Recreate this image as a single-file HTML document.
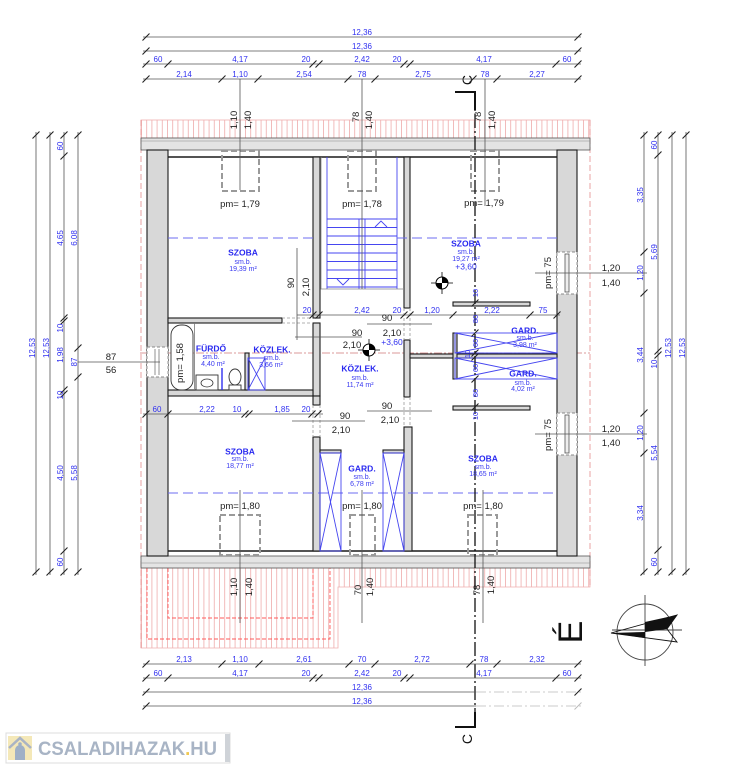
<!DOCTYPE html>
<html><head><meta charset="utf-8">
<style>
html,body{margin:0;padding:0;background:#fff;width:744px;height:768px;overflow:hidden}
svg{display:block}
text{font-family:"Liberation Sans",sans-serif}
.b{fill:#3030f0;font-size:8px}
.bs{fill:#3030f0;font-size:7.5px}
.k{fill:#222;font-size:9.5px}
.r{fill:#2a2af0;font-size:8.5px;font-weight:bold}
.s{fill:#3a3af0;font-size:7px}
.dl{stroke:#555;stroke-width:0.8;fill:none}
.tk{stroke:#222;stroke-width:1.1;fill:none}
.w{fill:#d8d8d8;stroke:#1a1a1a;stroke-width:1.1}
.bl{stroke:#4646f0;stroke-width:0.9;fill:none}
.win{fill:none;stroke:#9a9a9a;stroke-width:2;stroke-dasharray:6 3}
</style></head>
<body>
<svg width="744" height="768" viewBox="0 0 744 768">
<defs>
<pattern id="h" x="141" y="0" width="5.2" height="10" patternUnits="userSpaceOnUse"><line x1="0.5" y1="0" x2="0.5" y2="10" stroke="#f0b4b4" stroke-width="0.9"/></pattern>
</defs>

<!-- roof hatch top -->
<rect x="141" y="120" width="449" height="18" fill="url(#h)" stroke="#f0b0b0" stroke-width="0.8"/>
<!-- roof hatch bottom -->
<path d="M141 568H590V587H338V648H141Z" fill="url(#h)" stroke="#f0b0b0" stroke-width="0.8"/>
<path d="M147 568V639H330V568 M168 568V618H313V568" fill="none" stroke="#ff5a5a" stroke-width="0.9" stroke-dasharray="4 2"/>
<!-- pink dashed outline -->
<path d="M141 120V648 M590 120V587" stroke="#e89a9a" stroke-width="0.9" stroke-dasharray="6 3" fill="none"/>

<!-- eave bands -->
<rect x="141" y="138" width="449" height="12" fill="#e4e4e4" stroke="#555" stroke-width="0.8"/>
<line x1="141" y1="141" x2="590" y2="141" stroke="#888" stroke-width="0.6"/>
<rect x="141" y="556" width="449" height="12" fill="#e4e4e4" stroke="#555" stroke-width="0.8"/>
<line x1="141" y1="563" x2="590" y2="563" stroke="#888" stroke-width="0.6"/>

<!-- horizontal axis red dash-dot -->
<line x1="140" y1="353" x2="590" y2="353" stroke="#d07a7a" stroke-width="0.8" stroke-dasharray="8 2 2 2"/>

<!-- outer walls -->
<rect class="w" x="147" y="150" width="21" height="406"/>
<rect class="w" x="557" y="150" width="20" height="406"/>
<!-- windows in walls -->
<rect x="147" y="347" width="21" height="30" fill="#fff" stroke="#888" stroke-width="0.9" stroke-dasharray="3 2"/>
<path d="M155 349V375M159 349V375" stroke="#777" stroke-width="0.8"/>
<rect x="557" y="252" width="20" height="42" fill="#fff" stroke="#888" stroke-width="0.9" stroke-dasharray="3 2"/>
<rect x="565" y="254" width="4" height="38" fill="#eee" stroke="#555" stroke-width="0.8"/>
<rect x="557" y="413" width="20" height="42" fill="#fff" stroke="#888" stroke-width="0.9" stroke-dasharray="3 2"/>
<rect x="565" y="415" width="4" height="38" fill="#eee" stroke="#555" stroke-width="0.8"/>

<!-- room top/bottom lines -->
<path d="M168 157H557M168 551H557" stroke="#1a1a1a" stroke-width="1.4"/>

<!-- interior walls -->
<rect class="w" x="313" y="157" width="7" height="161"/>
<rect class="w" x="404" y="157" width="6" height="151"/>
<rect class="w" x="168" y="318" width="114" height="5"/>
<rect class="w" x="313" y="323" width="7" height="73"/>
<rect class="w" x="168" y="390" width="145" height="6"/>
<rect class="w" x="313" y="396" width="7" height="9"/>
<rect class="w" x="313" y="437" width="7" height="114"/>
<rect class="w" x="404" y="340" width="6" height="57"/>
<rect class="w" x="404" y="427" width="8" height="124"/>
<rect class="w" x="410" y="354" width="147" height="4"/>
<rect class="w" x="453" y="333" width="4" height="46"/>
<rect class="w" x="453" y="302" width="77" height="4"/>
<rect class="w" x="453" y="406" width="77" height="4"/>
<rect class="w" x="320" y="450" width="21" height="3"/>
<rect class="w" x="383" y="450" width="21" height="3"/>
<rect class="w" x="245" y="353" width="4" height="37"/>

<!-- door dashed -->
<path d="M282 318H313M282 323H313M313 405V437M320 405V437M404 397V427M410 397V427M404 308V340M410 308V340" stroke="#999" stroke-width="0.8" stroke-dasharray="3 2" fill="none"/>

<!-- stair -->
<path class="bl" d="M327 157V289M397 157V289M327 219H397M327 227.5H397M327 236H397M327 244.5H397M327 253H397M327 261.5H397M327 270H397M327 278.5H397M327 287H397M359 219V289M365 219V289"/>
<path class="bl" d="M337 279L343 285L349 279M375 227L381 221L387 227"/>
<path d="M321 157V289H404" stroke="#888" stroke-width="0.8" fill="none"/>

<!-- blue dashed roof lines -->
<path d="M168 238H313M397 238H557M168 493H557" stroke="#6c6cf0" stroke-width="0.9" stroke-dasharray="10 5" fill="none"/>

<!-- closets -->
<g class="bl">
<rect x="455" y="333" width="102" height="20"/><path d="M455 333L557 353M455 353L557 333"/>
<rect x="455" y="358" width="102" height="21"/><path d="M455 358L557 379M455 379L557 358"/>
<rect x="320" y="453" width="21" height="98"/><path d="M320 453L341 551M341 453L320 551"/>
<rect x="383" y="453" width="21" height="98"/><path d="M383 453L404 551M404 453L383 551"/>
<rect x="248" y="358" width="17" height="32"/><path d="M248 358L265 390M265 358L248 390"/>
</g>

<!-- bathroom fixtures -->
<rect x="171" y="325" width="22" height="65" rx="10" fill="#fff" stroke="#333" stroke-width="0.9"/>
<line x1="194.5" y1="323" x2="194.5" y2="390" stroke="#777" stroke-width="0.8"/>
<rect x="196" y="375" width="22" height="15" fill="#fff" stroke="#333" stroke-width="0.9"/>
<ellipse cx="207" cy="383" rx="6" ry="4" fill="none" stroke="#333" stroke-width="0.8"/>
<line x1="222" y1="368" x2="222" y2="390" stroke="#3030f0" stroke-width="1.4"/>
<ellipse cx="235" cy="377" rx="6" ry="8" fill="#fff" stroke="#333" stroke-width="0.9"/>
<rect x="229" y="385" width="12" height="5" fill="#fff" stroke="#333" stroke-width="0.9"/>

<!-- roof windows -->
<rect class="win" x="222" y="151" width="37" height="40"/>
<rect class="win" x="348" y="151" width="28" height="40"/>
<rect class="win" x="471" y="151" width="28" height="40"/>
<rect class="win" x="220" y="515" width="40" height="40"/>
<rect class="win" x="350" y="515" width="25" height="40"/>
<rect class="win" x="468" y="515" width="29" height="40"/>

<!-- window reference lines -->
<path class="dl" d="M240 79V190M362 79V289M485 79V206M240 490V623M362 490V623M483 490V623M535 273H647M535 434H647M78 362H160M297 248V340M367 324H432M295 337H362M367 411H432M292 421H365"/>

<!-- section line -->
<line x1="475" y1="92" x2="475" y2="727" stroke="#111" stroke-width="1.3" stroke-dasharray="14 3 2 3"/>
<path d="M455 92H475V110M455 727H475V712" stroke="#111" stroke-width="2" fill="none"/>
<text transform="translate(472,80) rotate(-90)" text-anchor="middle" style="font-size:14px;fill:#111">C</text>
<text transform="translate(472,739) rotate(-90)" text-anchor="middle" style="font-size:14px;fill:#111">C</text>

<!-- level symbols -->
<g transform="translate(442,283)"><path d="M-11 0H11M0-11V11" stroke="#000" stroke-width="0.8"/><circle r="6" fill="#fff" stroke="#000" stroke-width="1"/><path d="M0 0V-6A6 6 0 0 1 6 0ZM0 0V6A6 6 0 0 1 -6 0Z" fill="#000"/></g>
<g transform="translate(369,350)"><path d="M-11 0H11M0-11V11" stroke="#000" stroke-width="0.8"/><circle r="6" fill="#fff" stroke="#000" stroke-width="1"/><path d="M0 0V-6A6 6 0 0 1 6 0ZM0 0V6A6 6 0 0 1 -6 0Z" fill="#000"/></g>

<!-- TOP DIMENSIONS -->
<path class="dl" d="M143 37H581M143 51H581M143 64H581M143 79H581"/>
<path class="tk" d="M142.5 40.5l7-7M574.5 40.5l7-7M142.5 54.5l7-7M574.5 54.5l7-7M142.5 67.5l7-7M164.5 67.5l7-7M309.5 67.5l7-7M315.5 67.5l7-7M400.5 67.5l7-7M406.5 67.5l7-7M552.5 67.5l7-7M574.5 67.5l7-7M142.5 82.5l7-7M218.5 82.5l7-7M254.5 82.5l7-7M344.5 82.5l7-7M371.5 82.5l7-7M469.5 82.5l7-7M493.5 82.5l7-7M574.5 82.5l7-7"/>
<g class="b" text-anchor="middle">
<text x="362" y="35">12,36</text>
<text x="362" y="49">12,36</text>
<text x="158" y="62">60</text><text x="240" y="62">4,17</text><text x="306" y="62">20</text><text x="362" y="62">2,42</text><text x="397" y="62">20</text><text x="484" y="62">4,17</text><text x="567" y="62">60</text>
<text x="184" y="77">2,14</text><text x="240" y="77">1,10</text><text x="304" y="77">2,54</text><text x="362" y="77">78</text><text x="423" y="77">2,75</text><text x="485" y="77">78</text><text x="537" y="77">2,27</text>
</g>

<!-- BOTTOM DIMENSIONS -->
<path class="dl" d="M143 664H581M143 678H581M143 692H476M143 706H476"/>
<path d="M476 692H581M476 706H581" stroke="#bbb" stroke-width="0.8" stroke-dasharray="10 3 2 3"/>
<path class="tk" d="M142.5 667.5l7-7M218.5 667.5l7-7M255.5 667.5l7-7M345.5 667.5l7-7M371.5 667.5l7-7M466.5 667.5l7-7M493.5 667.5l7-7M574.5 667.5l7-7M142.5 681.5l7-7M164.5 681.5l7-7M309.5 681.5l7-7M315.5 681.5l7-7M400.5 681.5l7-7M406.5 681.5l7-7M552.5 681.5l7-7M574.5 681.5l7-7M142.5 695.5l7-7M574.5 695.5l7-7M142.5 709.5l7-7"/>
<path d="M574.5 709.5l7-7" stroke="#bbb" stroke-width="1"/>
<g class="b" text-anchor="middle">
<text x="184" y="662">2,13</text><text x="240" y="662">1,10</text><text x="304" y="662">2,61</text><text x="362" y="662">70</text><text x="422" y="662">2,72</text><text x="484" y="662">78</text><text x="537" y="662">2,32</text>
<text x="158" y="676">60</text><text x="240" y="676">4,17</text><text x="306" y="676">20</text><text x="362" y="676">2,42</text><text x="397" y="676">20</text><text x="484" y="676">4,17</text><text x="567" y="676">60</text>
<text x="362" y="690">12,36</text>
<text x="362" y="704">12,36</text>
</g>

<!-- LEFT DIMENSIONS -->
<path class="dl" d="M36 132V575M50 132V575M64 132V575M78 132V575"/>
<path class="tk" d="M32.5 138.5l7-7M32.5 575.5l7-7M46.5 138.5l7-7M46.5 575.5l7-7M60.5 138.5l7-7M60.5 159.5l7-7M60.5 321.5l7-7M60.5 324.5l7-7M60.5 393.5l7-7M60.5 397.5l7-7M60.5 554.5l7-7M60.5 575.5l7-7M74.5 138.5l7-7M74.5 351.5l7-7M74.5 380.5l7-7M74.5 575.5l7-7"/>
<g class="b" text-anchor="middle">
<text transform="translate(35,348) rotate(-90)">12,53</text>
<text transform="translate(49,348) rotate(-90)">12,53</text>
<text transform="translate(63,146) rotate(-90)">60</text>
<text transform="translate(63,238) rotate(-90)">4,65</text>
<text transform="translate(63,328) rotate(-90)">10</text>
<text transform="translate(63,355) rotate(-90)">1,98</text>
<text transform="translate(63,395) rotate(-90)">10</text>
<text transform="translate(63,473) rotate(-90)">4,50</text>
<text transform="translate(63,562) rotate(-90)">60</text>
<text transform="translate(77,238) rotate(-90)">6,08</text>
<text transform="translate(77,362) rotate(-90)">87</text>
<text transform="translate(77,473) rotate(-90)">5,58</text>
</g>

<!-- RIGHT DIMENSIONS -->
<path class="dl" d="M644 132V575M658 132V575M672 132V575M686 132V575"/>
<path class="tk" d="M640.5 138.5l7-7M640.5 255.5l7-7M640.5 296.5l7-7M640.5 416.5l7-7M640.5 456.5l7-7M640.5 575.5l7-7M654.5 138.5l7-7M654.5 158.5l7-7M654.5 354.5l7-7M654.5 358.5l7-7M654.5 553.5l7-7M654.5 575.5l7-7M668.5 138.5l7-7M668.5 575.5l7-7M682.5 138.5l7-7M682.5 575.5l7-7"/>
<g class="b" text-anchor="middle">
<text transform="translate(643,195) rotate(-90)">3,35</text>
<text transform="translate(643,273) rotate(-90)">1,20</text>
<text transform="translate(643,355) rotate(-90)">3,44</text>
<text transform="translate(643,433) rotate(-90)">1,20</text>
<text transform="translate(643,513) rotate(-90)">3,34</text>
<text transform="translate(657,145) rotate(-90)">60</text>
<text transform="translate(657,252) rotate(-90)">5,69</text>
<text transform="translate(657,364) rotate(-90)">10</text>
<text transform="translate(657,453) rotate(-90)">5,54</text>
<text transform="translate(657,562) rotate(-90)">60</text>
<text transform="translate(671,348) rotate(-90)">12,53</text>
<text transform="translate(685,348) rotate(-90)">12,53</text>
</g>

<!-- INTERIOR DIMENSIONS -->
<path class="dl" d="M297 315H560M143 414H323"/>
<path class="tk" d="M309.5 318.5l7-7M315.5 318.5l7-7M400.5 318.5l7-7M406.5 318.5l7-7M449.5 318.5l7-7M526.5 318.5l7-7M553.5 318.5l7-7M142.5 417.5l7-7M164.5 417.5l7-7M241.5 417.5l7-7M245.5 417.5l7-7M308.5 417.5l7-7M314.5 417.5l7-7M471.5 306.5l7-7M471.5 336.5l7-7M471.5 356.5l7-7M471.5 360.5l7-7M471.5 382.5l7-7M471.5 410.5l7-7"/>
<g class="b" text-anchor="middle">
<text x="307" y="313">20</text><text x="362" y="313">2,42</text><text x="397" y="313">20</text><text x="432" y="313">1,20</text><text x="492" y="313">2,22</text><text x="543" y="313">75</text>
<text x="157" y="412">60</text><text x="207" y="412">2,22</text><text x="237" y="412">10</text><text x="282" y="412">1,85</text><text x="306" y="412">20</text>
</g>
<g class="bs" text-anchor="middle">
<text transform="translate(478,293) rotate(-90)">10</text>
<text transform="translate(478,319) rotate(-90)">80</text>
<text transform="translate(478,343) rotate(-90)">60</text>
<text transform="translate(470,354) rotate(-90)">10</text>
<text transform="translate(478,368) rotate(-90)">60</text>
<text transform="translate(478,393) rotate(-90)">80</text>
<text transform="translate(478,416) rotate(-90)">10</text>
</g>

<!-- black labels -->
<g class="k" text-anchor="middle">
<text transform="translate(237,120) rotate(-90)">1,10</text>
<text transform="translate(251,120) rotate(-90)">1,40</text>
<text transform="translate(359,117) rotate(-90)">78</text>
<text transform="translate(372,120) rotate(-90)">1,40</text>
<text transform="translate(481,117) rotate(-90)">78</text>
<text transform="translate(495,120) rotate(-90)">1,40</text>
<text transform="translate(237,587) rotate(-90)">1,10</text>
<text transform="translate(252,587) rotate(-90)">1,40</text>
<text transform="translate(361,590) rotate(-90)">70</text>
<text transform="translate(373,587) rotate(-90)">1,40</text>
<text transform="translate(480,590) rotate(-90)">78</text>
<text transform="translate(494,585) rotate(-90)">1,40</text>
<text x="240" y="207">pm= 1,79</text>
<text x="362" y="207">pm= 1,78</text>
<text x="484" y="206">pm= 1,79</text>
<text x="240" y="509">pm= 1,80</text>
<text x="362" y="509">pm= 1,80</text>
<text x="483" y="509">pm= 1,80</text>
<text transform="translate(294,283) rotate(-90)">90</text>
<text transform="translate(309,287) rotate(-90)">2,10</text>
<text transform="translate(551,273) rotate(-90)">pm= 75</text>
<text transform="translate(551,435) rotate(-90)">pm= 75</text>
<text transform="translate(183,363) rotate(-90)">pm= 1,58</text>
<text x="611" y="271">1,20</text>
<text x="611" y="286">1,40</text>
<text x="611" y="432">1,20</text>
<text x="611" y="446">1,40</text>
<text x="111" y="360">87</text>
<text x="111" y="373">56</text>
<text x="387" y="321">90</text>
<text x="392" y="336">2,10</text>
<text x="357" y="336">90</text>
<text x="352" y="348">2,10</text>
<text x="387" y="409">90</text>
<text x="390" y="423">2,10</text>
<text x="345" y="419">90</text>
<text x="341" y="433">2,10</text>
</g>
<text x="392" y="345" class="b" text-anchor="middle" style="font-size:8.5px">+3,60</text>

<!-- room labels -->
<g text-anchor="middle">
<text x="243" y="255.5" class="r">SZOBA</text><text x="243" y="264" class="s">sm.b.</text><text x="243" y="271" class="s">19,39 m²</text>
<text x="466" y="246.5" class="r">SZOBA</text><text x="466" y="254" class="s">sm.b.</text><text x="466" y="261" class="s">19,27 m²</text><text x="466" y="269.5" class="b" style="font-size:8.5px">+3,60</text>
<text x="211" y="351.5" class="r">FÜRDŐ</text><text x="211" y="359" class="s">sm.b.</text><text x="213" y="366" class="s">4,40 m²</text>
<text x="272" y="352.5" class="r">KÖZLEK.</text><text x="272" y="360" class="s">sm.b.</text><text x="271" y="367" class="s">3,66 m²</text>
<text x="360" y="371.5" class="r">KÖZLEK.</text><text x="360" y="380" class="s">sm.b.</text><text x="360" y="387" class="s">11,74 m²</text>
<text x="525" y="333.5" class="r">GARD.</text><text x="525" y="340" class="s">sm.b.</text><text x="525" y="347" class="s">3,98 m²</text>
<text x="523" y="376.5" class="r">GARD.</text><text x="523" y="385" class="s">sm.b.</text><text x="523" y="391" class="s">4,02 m²</text>
<text x="240" y="454.5" class="r">SZOBA</text><text x="240" y="461" class="s">sm.b.</text><text x="240" y="468" class="s">18,77 m²</text>
<text x="362" y="471.5" class="r">GARD.</text><text x="362" y="479" class="s">sm.b.</text><text x="362" y="486" class="s">6,78 m²</text>
<text x="483" y="461.5" class="r">SZOBA</text><text x="483" y="469" class="s">sm.b.</text><text x="483" y="476" class="s">18,65 m²</text>
</g>

<!-- North -->
<text transform="translate(582,632) rotate(-90)" text-anchor="middle" style="font-size:34px;fill:#111">É</text>
<g stroke="#444" stroke-width="0.9" fill="none">
<circle cx="645" cy="632" r="28"/>
<path d="M645 595V666M612 630H682"/>
<path d="M611 633L677 615L667 629L677 642Z" stroke="#111"/>
</g>
<path d="M645 622L677 615L667 629L645 632Z" fill="#111"/>
<path d="M611 633L645 632L645 638Z" fill="#111"/>

<!-- watermark -->
<rect x="6" y="733" width="224" height="30" fill="#fff" stroke="#dcdcdc" stroke-width="1"/>
<rect x="225" y="734" width="5" height="28" fill="#cfd3d8"/>
<rect x="8" y="736" width="24" height="24" fill="#f4e8b8"/>
<path d="M9 748L20 738L31 748" fill="none" stroke="#aab4c4" stroke-width="2.5"/>
<path d="M15 760V750A5 5 0 0 1 25 750V760Z" fill="#9fb0c6"/>
<circle cx="20" cy="744" r="1.8" fill="#9fb0c6"/>
<text x="38" y="755" textLength="179" lengthAdjust="spacingAndGlyphs" style="font-size:19px;font-weight:bold;fill:#a8b4c5">CSALADIHAZAK<tspan fill="#f0c850">.</tspan>HU</text>
</svg>
</body></html>
